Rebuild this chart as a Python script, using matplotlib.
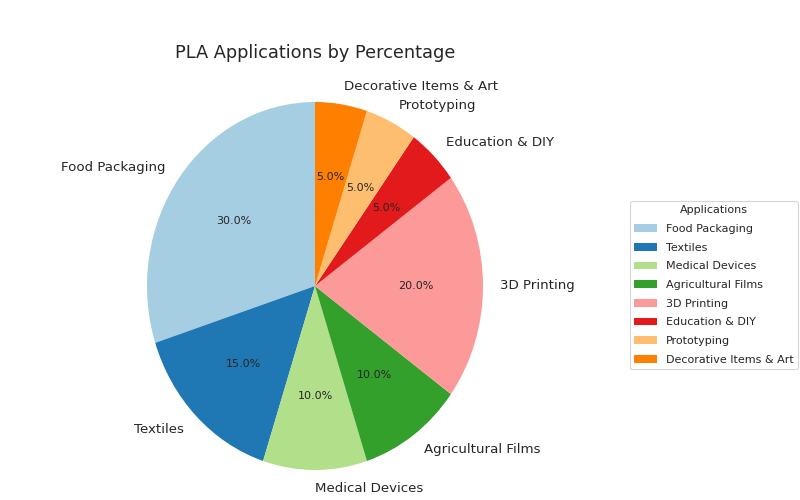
import matplotlib
matplotlib.use('Agg')
import matplotlib.pyplot as plt

# PLA application shares (percent)
applications = ['Food Packaging', 'Textiles', 'Medical Devices', 'Agricultural Films',
                '3D Printing', 'Education & DIY', 'Prototyping', 'Decorative Items & Art']
shares = [30, 15, 10, 10, 20, 5, 5, 5]

text_color = '#262626'
colors = plt.cm.Paired.colors[:len(applications)]

fig = plt.figure(figsize=(10, 6.25), dpi=80)
# the reference is slightly stretched vertically, so the pie is drawn as an ellipse
ax = fig.add_axes([0.13125, -0.032, 0.525, 0.92])

wedges, texts, autotexts = ax.pie(shares, labels=applications, colors=colors,
                                  autopct='%1.1f%%', startangle=90,
                                  textprops={'color': text_color, 'fontsize': 12})
for t in autotexts:
    t.set_fontsize(10)
ax.set_aspect('auto')
ax.set_xlim(-1.25, 1.25)
ax.set_ylim(-1.25, 1.25)
ax.set_title('PLA Applications by Percentage', fontsize=16, color=text_color,
             y=0.995, pad=0)

leg = ax.legend(wedges, applications, title='Applications', loc='center left',
                bbox_to_anchor=(0.7875, 0.43), bbox_transform=fig.transFigure,
                borderaxespad=0, labelspacing=0.78,
                fontsize=10, title_fontsize=10)
for t in leg.get_texts():
    t.set_color(text_color)
leg.get_title().set_color(text_color)

fig.savefig('out.png', dpi=80)
